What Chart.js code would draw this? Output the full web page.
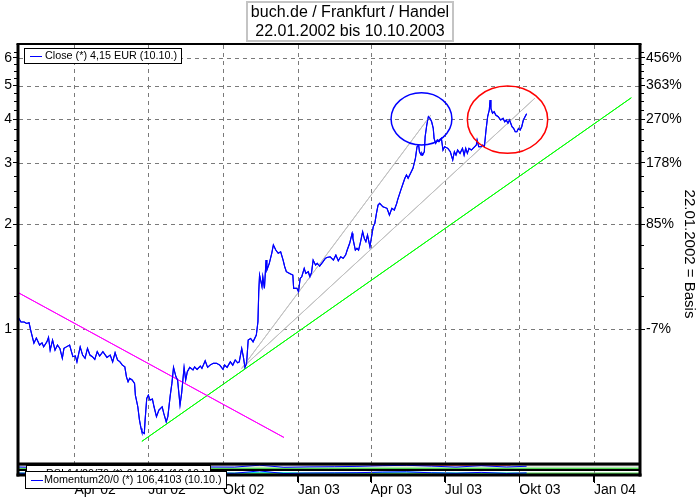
<!DOCTYPE html>
<html><head><meta charset="utf-8">
<script src="https://cdn.jsdelivr.net/npm/chart.js@4.4.0/dist/chart.umd.min.js"></script>
<style>html,body{margin:0;padding:0;background:#fff;}canvas{display:block;}</style>
</head><body>
<canvas id="c" width="700" height="500"></canvas>
<script>
const FONT = "'Liberation Sans', Arial, sans-serif";
const titleLines = ["buch.de / Frankfurt / Handel", "22.01.2002 bis 10.10.2003"];
const rightAxisTitle = "22.01.2002 = Basis";
const legendClose = "Close (*) 4,15 EUR (10.10.)";
const legendRsi = "RSI 14/20/70 (*) 61,9191 (10.10.)";
const legendMom = "Momentum20/0 (*) 106,4103 (10.10.)";

// Close prices (EUR)
const closeDates = [
 "2002-01-22","2002-01-25","2002-01-29",
 "2002-02-01","2002-02-04","2002-02-06","2002-02-10","2002-02-13","2002-02-17","2002-02-20","2002-02-22","2002-02-26","2002-02-28",
 "2002-03-02","2002-03-05","2002-03-08","2002-03-11","2002-03-14","2002-03-17","2002-03-19","2002-03-22","2002-03-26","2002-03-30",
 "2002-04-02","2002-04-04","2002-04-08","2002-04-11","2002-04-14","2002-04-17","2002-04-20","2002-04-23","2002-04-26","2002-04-29",
 "2002-05-02","2002-05-06","2002-05-11","2002-05-15","2002-05-18","2002-05-21","2002-05-24","2002-05-27","2002-05-30",
 "2002-06-02","2002-06-04","2002-06-06","2002-06-08","2002-06-11","2002-06-14","2002-06-15","2002-06-18","2002-06-20","2002-06-22","2002-06-23","2002-06-26","2002-06-27","2002-06-29",
 "2002-07-01","2002-07-03","2002-07-06","2002-07-08","2002-07-11","2002-07-14","2002-07-18","2002-07-20","2002-07-23","2002-07-25","2002-07-28","2002-07-30",
 "2002-08-01","2002-08-04","2002-08-06","2002-08-09","2002-08-11","2002-08-14","2002-08-16","2002-08-18","2002-08-21","2002-08-25","2002-08-27","2002-08-30",
 "2002-09-03","2002-09-05","2002-09-09","2002-09-12","2002-09-15","2002-09-19","2002-09-23","2002-09-27",
 "2002-10-01","2002-10-03","2002-10-06","2002-10-10","2002-10-13","2002-10-16","2002-10-19","2002-10-21","2002-10-24","2002-10-26","2002-10-28","2002-10-30",
 "2002-11-01","2002-11-04","2002-11-07","2002-11-11","2002-11-13","2002-11-14","2002-11-15","2002-11-18","2002-11-19","2002-11-21","2002-11-23","2002-11-24","2002-11-27","2002-11-30",
 "2002-12-02","2002-12-05","2002-12-08","2002-12-11","2002-12-14","2002-12-16","2002-12-18","2002-12-22","2002-12-26","2002-12-27","2002-12-31",
 "2003-01-02","2003-01-04","2003-01-06","2003-01-09","2003-01-11","2003-01-14","2003-01-16","2003-01-18","2003-01-20","2003-01-23","2003-01-25","2003-01-28",
 "2003-02-01","2003-02-04","2003-02-06","2003-02-10","2003-02-14","2003-02-17","2003-02-20","2003-02-23","2003-02-26",
 "2003-03-01","2003-03-03","2003-03-06","2003-03-09","2003-03-10","2003-03-13","2003-03-15","2003-03-17","2003-03-19","2003-03-22","2003-03-24","2003-03-26","2003-03-28","2003-03-31",
 "2003-04-02","2003-04-04","2003-04-06","2003-04-08","2003-04-10","2003-04-12","2003-04-16","2003-04-21","2003-04-24","2003-04-27","2003-04-30",
 "2003-05-03","2003-05-04","2003-05-08","2003-05-11","2003-05-13","2003-05-15","2003-05-17","2003-05-23","2003-05-26","2003-05-28","2003-05-30","2003-05-31",
 "2003-06-02","2003-06-03","2003-06-04","2003-06-06","2003-06-07","2003-06-09","2003-06-11","2003-06-13","2003-06-15","2003-06-17","2003-06-18","2003-06-20","2003-06-22","2003-06-24","2003-06-27","2003-06-29",
 "2003-07-01","2003-07-05","2003-07-08","2003-07-11","2003-07-13","2003-07-15","2003-07-17","2003-07-20","2003-07-23","2003-07-25","2003-07-27","2003-07-29","2003-07-31",
 "2003-08-03","2003-08-05","2003-08-09","2003-08-10","2003-08-12","2003-08-15","2003-08-17","2003-08-19","2003-08-21","2003-08-23","2003-08-25","2003-08-26","2003-08-27","2003-08-29","2003-08-31",
 "2003-09-02","2003-09-05","2003-09-08","2003-09-11","2003-09-13","2003-09-15","2003-09-17","2003-09-19","2003-09-22","2003-09-24","2003-09-26","2003-09-28","2003-09-30",
 "2003-10-02","2003-10-04","2003-10-06","2003-10-10"
];
const closeValues = [
 1.08,1.05,1.05,
 1.04,1.045,0.995,0.913,0.944,0.902,0.915,0.891,0.921,0.949,
 0.872,0.932,0.872,0.902,0.882,0.826,0.882,0.891,0.902,0.835,
 0.839,0.807,0.891,0.844,0.826,0.882,0.844,0.835,0.820,0.863,
 0.839,0.863,0.831,0.844,0.807,0.857,0.817,0.807,0.790,
 0.781,0.731,0.708,0.724,0.716,0.700,0.648,0.600,0.550,0.520,0.509,0.503,0.550,0.634,
 0.648,0.627,0.631,0.600,0.562,0.587,0.600,0.574,0.543,0.562,0.648,0.700,
 0.778,0.731,0.716,0.607,0.656,0.778,0.716,0.756,0.778,0.765,0.781,0.768,
 0.785,0.773,0.813,0.778,0.790,0.799,0.799,0.790,
 0.768,0.790,0.778,0.807,0.790,0.817,0.802,0.807,0.882,0.835,0.778,0.799,
 0.932,0.942,0.921,0.963,1.051,1.282,1.431,1.325,1.415,1.311,1.580,1.479,1.546,1.652,
 1.745,1.688,1.652,1.669,1.580,1.512,1.463,1.447,1.431,1.311,1.311,
 1.282,1.400,1.415,1.496,1.447,1.463,1.415,1.453,1.580,1.529,1.546,1.519,
 1.562,1.598,1.608,1.615,1.580,1.633,1.573,1.615,1.598,
 1.633,1.688,1.765,1.884,1.823,1.688,1.707,1.688,1.765,1.905,1.823,1.783,1.863,1.725,
 1.843,1.968,2.013,2.150,2.272,2.297,2.246,2.223,2.127,2.223,2.198,
 2.297,2.348,2.508,2.627,2.710,2.770,2.710,2.895,3.093,3.339,3.376,3.230,
 3.160,3.196,3.160,3.230,3.566,3.853,4.070,4.027,3.937,3.769,3.528,3.414,3.489,3.450,3.528,3.266,
 3.339,3.303,3.230,3.058,3.230,3.160,3.266,3.196,3.303,3.160,3.303,3.196,3.303,
 3.266,3.303,3.376,3.489,3.339,3.339,3.376,3.339,3.727,4.070,4.254,4.544,4.302,4.163,4.207,
 4.116,4.070,3.982,4.027,3.937,3.982,3.896,3.982,3.809,3.769,3.686,3.686,3.769,
 3.727,3.809,3.982,4.15
];

// Trend lines (date, price endpoints)
const trendDownDates = ["2002-01-22","2002-12-15"];
const trendDownValues = [1.273, 0.490];
const trendUpDates = ["2002-06-23","2004-02-16"];
const trendUpValues = [0.4775, 4.613];
const fan1Dates = ["2002-10-24","2003-06-14"];
const fan1Values = [0.773, 4.116];
const fan2Dates = ["2002-10-24","2003-10-20"];
const fan2Values = [0.773, 4.595];

// Marked ellipses: bounding boxes in date/price
const ellipseBlueDates = ["2003-04-26","2003-07-10"];
const ellipseBlueValues = [3.376, 4.77];
const ellipseRedDates = ["2003-07-29","2003-11-05"];
const ellipseRedValues = [3.196, 4.983];

// Indicator panels
const indDates = ["2002-01-22","2002-02-15","2002-03-15","2002-04-15","2002-05-15","2002-06-15","2002-07-15","2002-08-15","2002-09-15","2002-10-15","2002-11-15","2002-12-15","2003-01-15","2003-02-15","2003-03-15","2003-04-15","2003-05-15","2003-06-15","2003-07-15","2003-08-15","2003-09-15","2003-10-10"];
const rsiValues = [50,40,45,42,40,30,40,60,50,48,80,45,52,55,60,72,78,65,48,72,50,62];
const rsiHighDates = ["2003-04-01","2003-09-20"];
const rsiHighValues = [92,92];
const levelDates = ["2002-01-22","2004-02-26"];
const rsiUpperLevel = [70,70];
const rsiLowerLevel = [30,30];
const momValues = [100,96,95,99,97,80,105,120,102,98,150,92,103,106,110,125,130,108,97,118,94,106];
const momSignalValues = [100,98,96,97,97,90,95,108,108,100,120,110,100,104,108,118,125,115,103,110,103,100];
const momZeroLevel = [100,100];

// Axis ticks
const xTickDates = ["2002-04-01","2002-07-01","2002-10-01","2003-01-01","2003-04-01","2003-07-01","2003-10-01","2004-01-01"];
const xTickLabels = ["Apr 02","Jul 02","Okt 02","Jan 03","Apr 03","Jul 03","Okt 03","Jan 04"];
const yTickValues = [1,2,3,4,5,6];
const yTickLabelsLeft = ["1","2","3","4","5","6"];
const yTickLabelsRight = ["-7%","85%","178%","270%","363%","456%"];
const yMinorTicks = [1.25,1.5,1.75,2.25,2.5,2.75,3.25,3.5,3.75,4.25,4.5,4.75,5.25,5.5,5.75,6.25];

const DAY0 = Date.UTC(2002,0,1);
function dayNum(s){ const p = s.split('-').map(Number); return (Date.UTC(p[0],p[1]-1,p[2]) - DAY0) / 86400000; }
function pts(dates, vals){ return dates.map((d,i) => ({x: dayNum(d), y: vals[i]})); }

const Y_MIN = 0.4112, Y_MAX = 6.577;
const MAIN_PANEL_DATASETS = 5; // price + trend lines are re-drawn over the grid

// dashed grid + x tick marks at the scales' tick positions; main-panel lines are then re-drawn on top
const gridPlugin = {
  id: 'dashGrid',
  afterDatasetsDraw(chart){
    const ctx = chart.ctx, a = chart.chartArea, xs = chart.scales.x, ys = chart.scales.y;
    ctx.save();
    ctx.fillStyle = '#7a7a7a';
    const DASH = 4, GAP = 4;
    xs.ticks.forEach(t => {
      const px = Math.round(xs.getPixelForValue(t.value));
      for (let y = a.top + 1; y < a.bottom; y += DASH + GAP) ctx.fillRect(px, y, 1, Math.min(DASH, a.bottom - y));
    });
    ys.ticks.forEach(t => {
      const py = Math.round(ys.getPixelForValue(t.value));
      for (let x = a.left + 1; x < a.right; x += DASH + GAP) ctx.fillRect(x, py, Math.min(DASH, a.right - x), 1);
    });
    ctx.fillStyle = '#000';
    xs.ticks.forEach(t => {
      const px = Math.round(xs.getPixelForValue(t.value));
      ctx.fillRect(px, a.bottom, 1, 8);
    });
    ctx.beginPath(); ctx.rect(a.left, a.top, a.right - a.left, a.bottom - a.top); ctx.clip();
    for (let i = MAIN_PANEL_DATASETS - 1; i >= 0; i--) {
      const meta = chart.getDatasetMeta(i);
      if (meta && meta.controller) meta.controller.draw();
    }
    ctx.restore();
  }
};

const minorTicksPlugin = {
  id: 'minorTicks',
  afterDatasetsDraw(chart){
    const ctx = chart.ctx, ys = chart.scales.y, a = chart.chartArea;
    ctx.save(); ctx.fillStyle = '#000';
    yMinorTicks.forEach(v => {
      const py = Math.round(ys.getPixelForValue(v));
      if (py < a.top || py > ys.bottom) return;
      ctx.fillRect(a.left - 4, py, 4, 1);
      ctx.fillRect(a.right, py, 4, 1);
    });
    ctx.restore();
  }
};

const ellipsePlugin = {
  id: 'ellipses',
  afterDatasetsDraw(chart){
    const ctx = chart.ctx, xs = chart.scales.x, ys = chart.scales.y;
    const items = [[ellipseBlueDates, ellipseBlueValues, '#0000ff'], [ellipseRedDates, ellipseRedValues, '#ff0000']];
    ctx.save();
    items.forEach(([d, v, c]) => {
      const x1 = xs.getPixelForValue(dayNum(d[0])), x2 = xs.getPixelForValue(dayNum(d[1]));
      const y1 = ys.getPixelForValue(v[0]), y2 = ys.getPixelForValue(v[1]);
      ctx.beginPath();
      ctx.ellipse((x1+x2)/2, (y1+y2)/2, Math.abs(x2-x1)/2, Math.abs(y2-y1)/2, 0, 0, Math.PI*2);
      ctx.strokeStyle = c; ctx.lineWidth = 1.5; ctx.stroke();
    });
    ctx.restore();
  }
};

const framePlugin = {
  id: 'frame',
  afterDatasetsDraw(chart){
    const ctx = chart.ctx, a = chart.chartArea, s = chart.scales;
    ctx.save(); ctx.strokeStyle = '#000';
    const line = (x1,y1,x2,y2,w) => { ctx.lineWidth = w; ctx.beginPath(); ctx.moveTo(x1,y1); ctx.lineTo(x2,y2); ctx.stroke(); };
    line(a.left - 1.5, a.top, a.right + 1.5, a.top, 2);
    line(a.left, a.top, a.left, a.bottom + 1.5, 3);
    line(a.right, a.top, a.right, a.bottom + 1.5, 3);
    line(a.left, s.y.bottom, a.right, s.y.bottom, 3);
    line(a.left, s.yRsi.bottom, a.right, s.yRsi.bottom, 2);
    line(a.left - 1.5, a.bottom, a.right + 1.5, a.bottom, 3);
    ctx.restore();
  }
};

const titleBoxPlugin = {
  id: 'titleBox',
  afterDraw(chart){
    const ctx = chart.ctx, tb = chart.titleBlock;
    ctx.save();
    ctx.font = "16px " + FONT;
    const w = Math.max(...titleLines.map(t => ctx.measureText(t).width));
    const cx = (tb.left + tb.right) / 2;
    ctx.strokeStyle = '#c4c4c4'; ctx.lineWidth = 2;
    ctx.strokeRect(Math.round(cx - w/2 - 4), tb.top + 2, Math.round(w + 8), tb.height - 5);
    ctx.restore();
  }
};

const legendBoxPlugin = {
  id: 'legendBoxes',
  afterDraw(chart){
    const ctx = chart.ctx, a = chart.chartArea, s = chart.scales;
    const boxes = [
      {text: legendClose, color: '#0000ff', x: a.left + 6, y: a.top + 4, h: 15, tx: 21},
      {text: legendRsi, color: '#0000ff', x: a.left + 8, y: s.yRsi.top + 1, h: 17, tx: 20, noLine: true},
      {text: legendMom, color: '#0000ff', x: a.left + 7, y: s.yMom.top + 1, h: 17, tx: 19}
    ];
    ctx.save();
    ctx.font = "10.8px " + FONT;
    ctx.textBaseline = 'middle';
    boxes.forEach(b => {
      const w = Math.round(b.tx + ctx.measureText(b.text).width + 4);
      ctx.fillStyle = '#fff'; ctx.fillRect(b.x, b.y, w, b.h);
      ctx.strokeStyle = '#000'; ctx.lineWidth = 1;
      ctx.strokeRect(b.x + 0.5, b.y + 0.5, w, b.h);
      const my = b.y + b.h/2 + 0.5;
      if (!b.noLine) {
        ctx.fillStyle = b.color; ctx.fillRect(b.x + 6, Math.round(my), 12, 1);
      }
      ctx.fillStyle = '#000'; ctx.fillText(b.text, b.x + b.tx, my);
    });
    ctx.restore();
  }
};

Chart.defaults.font.family = FONT;
Chart.defaults.color = '#000';

const lineDs = (label, dates, vals, color, width, axis) => ({
  label, data: pts(dates, vals), borderColor: color, backgroundColor: color, borderWidth: width,
  yAxisID: axis, pointRadius: 0, tension: 0, fill: false
});

new Chart(document.getElementById('c'), {
  type: 'line',
  data: {
    datasets: [
      lineDs(legendClose, closeDates, closeValues, '#0000ff', 1.1, 'y'),
      lineDs('Trend fallend', trendDownDates, trendDownValues, '#ff00ff', 1, 'y'),
      lineDs('Trend steigend', trendUpDates, trendUpValues, '#00ff00', 1, 'y'),
      lineDs('Fächer 1', fan1Dates, fan1Values, '#c0c0c0', 1, 'y'),
      lineDs('Fächer 2', fan2Dates, fan2Values, '#c0c0c0', 1, 'y'),
      lineDs(legendRsi, indDates, rsiValues, '#0000ff', 1, 'yRsi'),
      lineDs('RSI hoch', rsiHighDates, rsiHighValues, '#ff0000', 2, 'yRsi'),
      lineDs('RSI 70', levelDates, rsiUpperLevel, '#a0a0a0', 1, 'yRsi'),
      lineDs('RSI 30', levelDates, rsiLowerLevel, '#00c000', 1, 'yRsi'),
      lineDs(legendMom, indDates, momValues, '#0000ff', 1, 'yMom'),
      lineDs('Momentum Signal', indDates, momSignalValues, '#00e0e0', 1, 'yMom'),
      lineDs('Momentum 100', levelDates, momZeroLevel, '#00c000', 1, 'yMom')
    ]
  },
  options: {
    responsive: false, animation: false, devicePixelRatio: 1, events: [],
    layout: {padding: 0},
    plugins: {
      legend: {display: false}, tooltip: {enabled: false},
      title: {display: true, text: titleLines, color: '#000',
        font: {family: FONT, size: 16, weight: 'normal', lineHeight: '19px'}, padding: {top: 3, bottom: 3}}
    },
    scales: {
      x: {
        type: 'linear', position: 'bottom', min: 20.4, max: 786.7, bounds: 'data',
        afterBuildTicks: s => { s.ticks = xTickDates.map(d => ({value: dayNum(d)})); },
        afterFit: s => { s.height = 25; },
        ticks: {callback: (v, i) => xTickLabels[i], align: 'start', autoSkip: false, maxRotation: 0, padding: 0,
          font: {size: 14}, color: '#000'},
        grid: {drawOnChartArea: false, color: '#000', lineWidth: 1, tickColor: '#000', tickLength: 7},
        border: {display: false}
      },
      y: {
        type: 'logarithmic', position: 'left', stack: 'L', stackWeight: 420, weight: 3,
        min: Y_MIN, max: Y_MAX, bounds: 'data',
        afterBuildTicks: s => { s.ticks = yTickValues.map(v => ({value: v})); },
        afterFit: s => { s.width = 18; },
        ticks: {callback: (v, i) => yTickLabelsLeft[i], padding: 1, font: {size: 14}, color: '#000', autoSkip: false},
        grid: {drawOnChartArea: false, color: '#000', lineWidth: 1, tickColor: '#000', tickLength: 5},
        border: {display: false}
      },
      yRsi: {type: 'linear', position: 'left', stack: 'L', stackWeight: 6, weight: 2, min: 0, max: 100, display: false},
      yMom: {type: 'linear', position: 'left', stack: 'L', stackWeight: 5, weight: 1, min: 60, max: 170, display: false},
      yR: {
        type: 'logarithmic', position: 'right', stack: 'R', stackWeight: 420, weight: 1,
        min: Y_MIN, max: Y_MAX, bounds: 'data',
        afterBuildTicks: s => { s.ticks = yTickValues.map(v => ({value: v})); },
        afterFit: s => { s.width = 60; },
        ticks: {callback: (v, i) => yTickLabelsRight[i], padding: 1, font: {size: 14}, color: '#000', autoSkip: false},
        grid: {drawOnChartArea: false, color: '#000', tickColor: '#000', tickLength: 5},
        border: {display: false},
        title: {display: true, text: rightAxisTitle, color: '#000', font: {size: 15}, padding: {top: 2, bottom: 0}}
      },
      yR2: {type: 'linear', position: 'right', stack: 'R', stackWeight: 11, weight: 2, min: 0, max: 1, display: false}
    }
  },
  plugins: [gridPlugin, ellipsePlugin, minorTicksPlugin, framePlugin, titleBoxPlugin, legendBoxPlugin]
});
</script>
</body></html>
